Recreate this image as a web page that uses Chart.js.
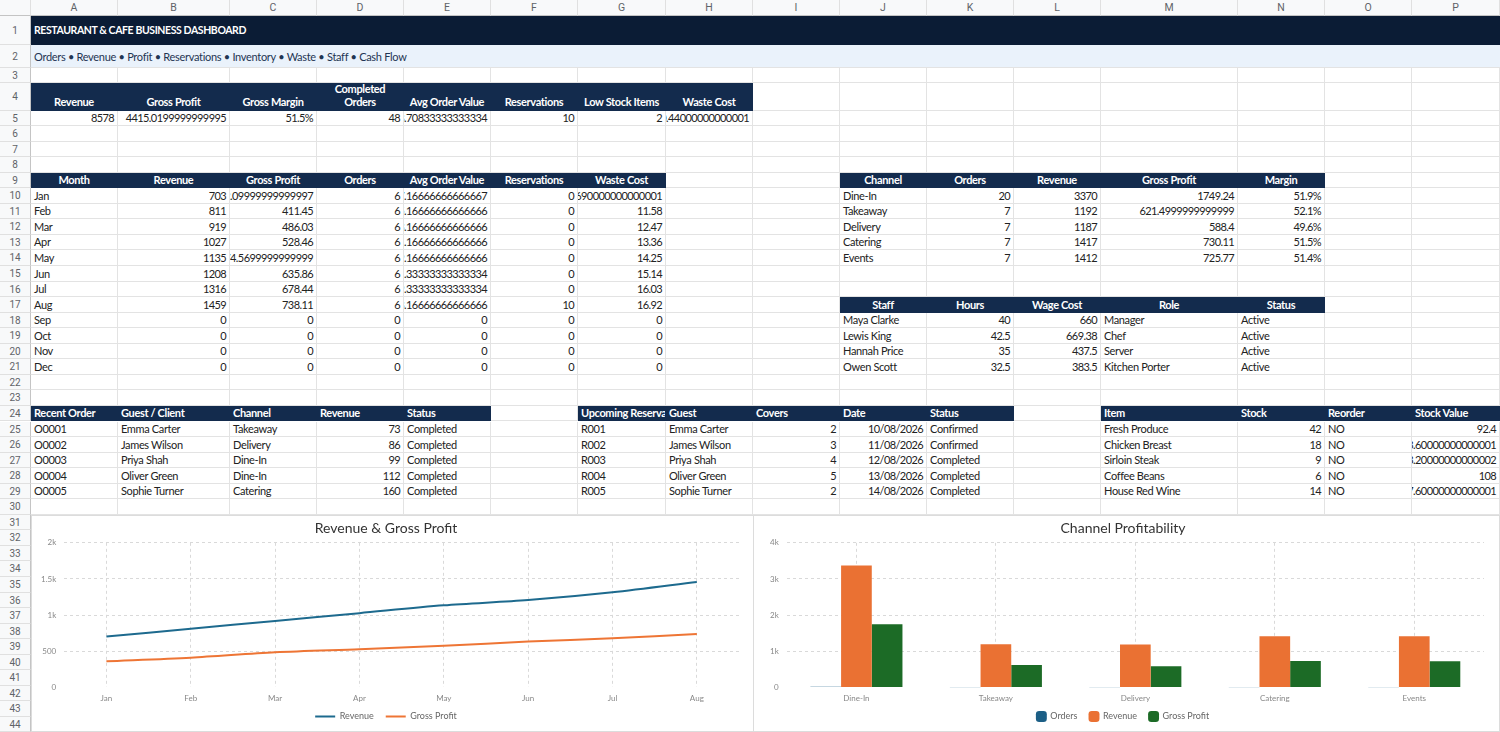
<!DOCTYPE html>
<html>
<head>
<meta charset="utf-8">
<title>Restaurant & Cafe Business Dashboard</title>
<script src="https://cdn.jsdelivr.net/npm/chart.js@4.4.0/dist/chart.umd.min.js"></script>
<style>
  body { margin: 0; background: #fff; font-family: Lato, "Noto Sans", sans-serif; }
  #sheet { position: relative; width: 1500px; height: 732px; overflow: hidden; }
  .c { position: absolute; box-sizing: border-box; overflow: hidden; white-space: nowrap; letter-spacing: -0.35px;
       border-right: 1px solid #e3e3e3; border-bottom: 1px solid #e3e3e3; font-size: 11px; color: #222; }
  .c span { position: absolute; bottom: 0px; line-height: 14px; }
  .c.l span { left: 3px; }
  .c.r { letter-spacing: -0.6px; }
  .c.r span { right: 3px; }
  .c.m span { left: 0; right: 0; text-align: center; }
  .c.h { background: #132b4d; border-color: #132b4d; color: #fff; font-weight: bold; letter-spacing: -0.35px; }
  .c.tall span { bottom: 2px; line-height: 13px; }
  .colhead { position: absolute; top: 0; height: 16px; box-sizing: border-box; background: #f8f9fa;
             border-right: 1px solid #e0e0e0; border-bottom: 1px solid #c4c4c4;
             font: 10.5px Roboto, sans-serif; color: #5f6368; text-align: center; line-height: 16px; }
  .rowhead { position: absolute; left: 0; width: 31px; box-sizing: border-box; background: #f8f9fa;
             border-right: 1px solid #c4c4c4; border-bottom: 1px solid #e0e0e0;
             font: 10px Roboto, sans-serif; color: #5f6368; text-align: center; }
  .band { position: absolute; left: 31px; width: 1469px; box-sizing: border-box; white-space: nowrap; padding-left: 3px; }
  .chartbox { position: absolute; top: 515px; height: 217px; background: #fff; box-sizing: border-box;
              border: 1px solid #dcdcdc; }
</style>
</head>
<body>
<div id="sheet">
  <div class="chartbox" style="left:31px;width:723px;z-index:5"><canvas id="trendChart"></canvas></div>
  <div class="chartbox" style="left:753px;width:747px;z-index:5"><canvas id="channelChart"></canvas></div>
</div>
<script>
// ---- KPI strip (row 4/5)
const kpiLabels = ['Revenue', 'Gross Profit', 'Gross Margin', 'Completed<br>Orders', 'Avg Order Value', 'Reservations', 'Low Stock Items', 'Waste Cost'];
const kpiValues = ['8578', '4415.0199999999995', '51.5%', '48', '178.70833333333334', '10', '2', '110.44000000000001'];

// ---- monthly table + line chart
const months = ['Jan', 'Feb', 'Mar', 'Apr', 'May', 'Jun', 'Jul', 'Aug', 'Sep', 'Oct', 'Nov', 'Dec'];
const monthRevenue = [703, 811, 919, 1027, 1135, 1208, 1316, 1459, 0, 0, 0, 0];
const monthProfit = [362.09999999999997, 411.45, 486.03, 528.46, 574.5699999999999, 635.86, 678.44, 738.11, 0, 0, 0, 0];
const monthOrders = [6, 6, 6, 6, 6, 6, 6, 6, 0, 0, 0, 0];
const monthAvgOrder = [117.16666666666667, 135.16666666666666, 153.16666666666666, 171.16666666666666,
                       189.16666666666666, 201.33333333333334, 219.33333333333334, 243.16666666666666, 0, 0, 0, 0];
const monthReservations = [0, 0, 0, 0, 0, 0, 0, 10, 0, 0, 0, 0];
const monthWaste = [10.690000000000001, 11.58, 12.47, 13.36, 14.25, 15.14, 16.03, 16.92, 0, 0, 0, 0];
const trendMonths = 8; // the chart only plots months with trading

// ---- channels table + bar chart
const channels = ['Dine-In', 'Takeaway', 'Delivery', 'Catering', 'Events'];
const channelOrders = [20, 7, 7, 7, 7];
const channelRevenue = [3370, 1192, 1187, 1417, 1412];
const channelProfit = [1749.24, 621.4999999999999, 588.4, 730.11, 725.77];
const channelMargin = ['51.9%', '52.1%', '49.6%', '51.5%', '51.4%'];

// ---- staff
const staffNames = ['Maya Clarke', 'Lewis King', 'Hannah Price', 'Owen Scott'];
const staffHours = [40, 42.5, 35, 32.5];
const staffWage = [660, 669.38, 437.5, 383.5];
const staffRoles = ['Manager', 'Chef', 'Server', 'Kitchen Porter'];
const staffStatus = ['Active', 'Active', 'Active', 'Active'];

// ---- recent orders
const orderIds = ['O0001', 'O0002', 'O0003', 'O0004', 'O0005'];
const orderGuests = ['Emma Carter', 'James Wilson', 'Priya Shah', 'Oliver Green', 'Sophie Turner'];
const orderChannels = ['Takeaway', 'Delivery', 'Dine-In', 'Dine-In', 'Catering'];
const orderRevenue = [73, 86, 99, 112, 160];
const orderStatus = ['Completed', 'Completed', 'Completed', 'Completed', 'Completed'];

// ---- reservations
const resIds = ['R001', 'R002', 'R003', 'R004', 'R005'];
const resGuests = ['Emma Carter', 'James Wilson', 'Priya Shah', 'Oliver Green', 'Sophie Turner'];
const resCovers = [2, 3, 4, 5, 2];
const resDates = ['10/08/2026', '11/08/2026', '12/08/2026', '13/08/2026', '14/08/2026'];
const resStatus = ['Confirmed', 'Confirmed', 'Completed', 'Completed', 'Completed'];

// ---- inventory
const items = ['Fresh Produce', 'Chicken Breast', 'Sirloin Steak', 'Coffee Beans', 'House Red Wine'];
const itemStock = [42, 18, 9, 6, 14];
const itemReorder = ['NO', 'NO', 'NO', 'NO', 'NO'];
const itemValue = [92.4, 93.60000000000001, 133.20000000000002, 108, 117.60000000000001];

// ---------------- sheet grid ----------------
const colEdges = [31, 118, 230, 317, 404, 491, 578, 666, 753, 840, 927, 1014, 1101, 1238, 1325, 1412, 1500];
const colNames = 'ABCDEFGHIJKLMNOP'.split('');
function rowTop(r) {
  if (r == 1) return 16;
  if (r == 2) return 45;
  if (r == 3) return 68;
  if (r == 4) return 83;
  return 110.5 + (r - 5) * 15.55;
}

const cells = {};
function put(col, row, text, align, header) {
  cells[col + row] = { t: String(text), a: align || 'l', h: !!header };
}
function putRow(startCol, row, values, aligns, header) {
  let ci = colNames.indexOf(startCol);
  values.forEach((v, i) => put(colNames[ci + i], row, v, aligns[i], header));
}

kpiLabels.forEach((t, i) => put(colNames[i], 4, t, 'm', true));
kpiValues.forEach((t, i) => put(colNames[i], 5, t, 'r'));

putRow('A', 9, ['Month', 'Revenue', 'Gross Profit', 'Orders', 'Avg Order Value', 'Reservations', 'Waste Cost'], 'mmmmmmm'.split(''), true);
months.forEach((m, i) => putRow('A', 10 + i,
  [m, monthRevenue[i], monthProfit[i], monthOrders[i], monthAvgOrder[i], monthReservations[i], monthWaste[i]], 'lrrrrrr'.split('')));

putRow('J', 9, ['Channel', 'Orders', 'Revenue', 'Gross Profit', 'Margin'], 'mmmmm'.split(''), true);
channels.forEach((ch, i) => putRow('J', 10 + i,
  [ch, channelOrders[i], channelRevenue[i], channelProfit[i], channelMargin[i]], 'lrrrr'.split('')));

putRow('J', 17, ['Staff', 'Hours', 'Wage Cost', 'Role', 'Status'], 'mmmmm'.split(''), true);
staffNames.forEach((s, i) => putRow('J', 18 + i,
  [s, staffHours[i], staffWage[i], staffRoles[i], staffStatus[i]], 'lrrll'.split('')));

putRow('A', 24, ['Recent Order', 'Guest / Client', 'Channel', 'Revenue', 'Status'], 'lllll'.split(''), true);
orderIds.forEach((o, i) => putRow('A', 25 + i,
  [o, orderGuests[i], orderChannels[i], orderRevenue[i], orderStatus[i]], 'lllrl'.split('')));

putRow('G', 24, ['Upcoming Reservation', 'Guest', 'Covers', 'Date', 'Status'], 'lllll'.split(''), true);
resIds.forEach((r, i) => putRow('G', 25 + i,
  [r, resGuests[i], resCovers[i], resDates[i], resStatus[i]], 'llrrl'.split('')));

putRow('M', 24, ['Item', 'Stock', 'Reorder', 'Stock Value'], 'llll'.split(''), true);
items.forEach((it, i) => putRow('M', 25 + i,
  [it, itemStock[i], itemReorder[i], itemValue[i]], 'lrlr'.split('')));

const sheet = document.getElementById('sheet');
function el(cls, style, html) {
  const d = document.createElement('div');
  d.className = cls;
  Object.assign(d.style, style);
  if (html != null) d.innerHTML = html;
  sheet.appendChild(d);
  return d;
}

el('colhead', { left: '0px', width: '31px' }, '');
colNames.forEach((n, i) => el('colhead', { left: colEdges[i] + 'px', width: (colEdges[i + 1] - colEdges[i]) + 'px' }, n));
for (let r = 1; r <= 44; r++) {
  const top = rowTop(r), h = rowTop(r + 1) - top;
  el('rowhead', { top: top + 'px', height: h + 'px', lineHeight: h + 'px' }, r);
  if (r <= 2) continue;
  colNames.forEach((n, i) => {
    const info = cells[n + r];
    let cls = 'c ' + (info ? info.a : 'l');
    if (info && info.h) cls += ' h';
    if (r == 4) cls += ' tall';
    el(cls, { left: colEdges[i] + 'px', top: top + 'px', width: (colEdges[i + 1] - colEdges[i]) + 'px', height: h + 'px' },
       info ? '<span>' + info.t + '</span>' : '');
  });
}
el('band', { top: '16px', height: '29px', lineHeight: '29px', background: '#0b1c35', color: '#fff', fontWeight: 'bold',
             fontSize: '10.5px', letterSpacing: '-0.4px' },
   'RESTAURANT &amp; CAFE BUSINESS DASHBOARD');
el('band', { top: '45px', height: '23px', lineHeight: '23px', background: '#eaf2fb', color: '#1f3553', fontSize: '11px',
             letterSpacing: '-0.3px', borderBottom: '1px solid #e3e3e3' },
   'Orders • Revenue • Profit • Reservations • Inventory • Waste • Staff • Cash Flow');

// ---------------- charts ----------------
Chart.defaults.font.family = 'Lato, "Noto Sans", sans-serif';
Chart.defaults.color = '#888';

function gridOpts() {
  return {
    color: ctx => (ctx.scale.axis === 'y' && ctx.tick && ctx.tick.value === 0) ? 'rgba(0,0,0,0)' : '#d9d9d9',
    drawTicks: false,
    offset: false
  };
}
function kFormat(v) {
  return v >= 1000 ? (v / 1000) + 'k' : v;
}
// let the plot reach further down: the x axis claims less room in layout...
function tightAxis(axis) {
  axis.height -= 9;
}
// ...but keeps its full box afterwards so the month labels are not clipped
const labelRoom = {
  id: 'labelRoom',
  afterLayout(chart) {
    const x = chart.scales.x;
    x.bottom = x.top + 24;
  }
};

new Chart(document.getElementById('trendChart'), {
  type: 'line',
  data: {
    labels: months.slice(0, trendMonths),
    datasets: [
      { label: 'Revenue', data: monthRevenue.slice(0, trendMonths), borderColor: '#1d6a8e', backgroundColor: '#1d6a8e',
        borderWidth: 2, pointRadius: 0, tension: 0.3 },
      { label: 'Gross Profit', data: monthProfit.slice(0, trendMonths), borderColor: '#ee7535', backgroundColor: '#ee7535',
        borderWidth: 2, pointRadius: 0, tension: 0.3 }
    ]
  },
  plugins: [labelRoom],
  options: {
    responsive: true,
    maintainAspectRatio: false,
    animation: false,
    layout: { padding: { left: 1, right: 14, top: 0, bottom: 0 } },
    plugins: {
      title: { display: true, text: 'Revenue & Gross Profit', color: '#333', font: { size: 14, weight: 'normal' },
               padding: { top: 4, bottom: 6 } },
      legend: { position: 'bottom',
                labels: { usePointStyle: true, pointStyle: 'line', pointStyleWidth: 20, color: '#666', font: { size: 9 }, padding: 12 } },
      tooltip: { enabled: false }
    },
    scales: {
      x: { offset: true, grid: gridOpts(), border: { display: false, dash: [3, 3] }, afterFit: tightAxis,
           ticks: { font: { size: 8 }, color: '#888', padding: 6 } },
      y: { min: 0, max: 2000, grid: gridOpts(), border: { display: false, dash: [3, 3] },
           ticks: { stepSize: 500, font: { size: 8 }, color: '#888', padding: 8, callback: kFormat } }
    }
  }
});

new Chart(document.getElementById('channelChart'), {
  type: 'bar',
  data: {
    labels: channels,
    datasets: [
      { label: 'Orders', data: channelOrders, backgroundColor: '#1c5f86' },
      { label: 'Revenue', data: channelRevenue, backgroundColor: '#ea7133' },
      { label: 'Gross Profit', data: channelProfit, backgroundColor: '#1c6b26' }
    ]
  },
  plugins: [labelRoom],
  options: {
    responsive: true,
    maintainAspectRatio: false,
    animation: false,
    datasets: { bar: { categoryPercentage: 0.66, barPercentage: 1 } },
    layout: { padding: { left: 8, right: 15, top: 0, bottom: 0 } },
    plugins: {
      title: { display: true, text: 'Channel Profitability', color: '#333', font: { size: 14, weight: 'normal' },
               padding: { top: 4, bottom: 6 } },
      legend: { position: 'bottom',
                labels: { usePointStyle: true, pointStyle: 'rectRounded', boxWidth: 9, boxHeight: 9, color: '#666', font: { size: 9 }, padding: 12 } },
      tooltip: { enabled: false }
    },
    scales: {
      x: { grid: gridOpts(), border: { display: false, dash: [3, 3] }, afterFit: tightAxis,
           ticks: { font: { size: 8 }, color: '#888', padding: 6 } },
      y: { min: 0, max: 4000, grid: gridOpts(), border: { display: false, dash: [3, 3] },
           ticks: { stepSize: 1000, font: { size: 8 }, color: '#888', padding: 8, callback: kFormat } }
    }
  }
});
</script>
</body>
</html>
